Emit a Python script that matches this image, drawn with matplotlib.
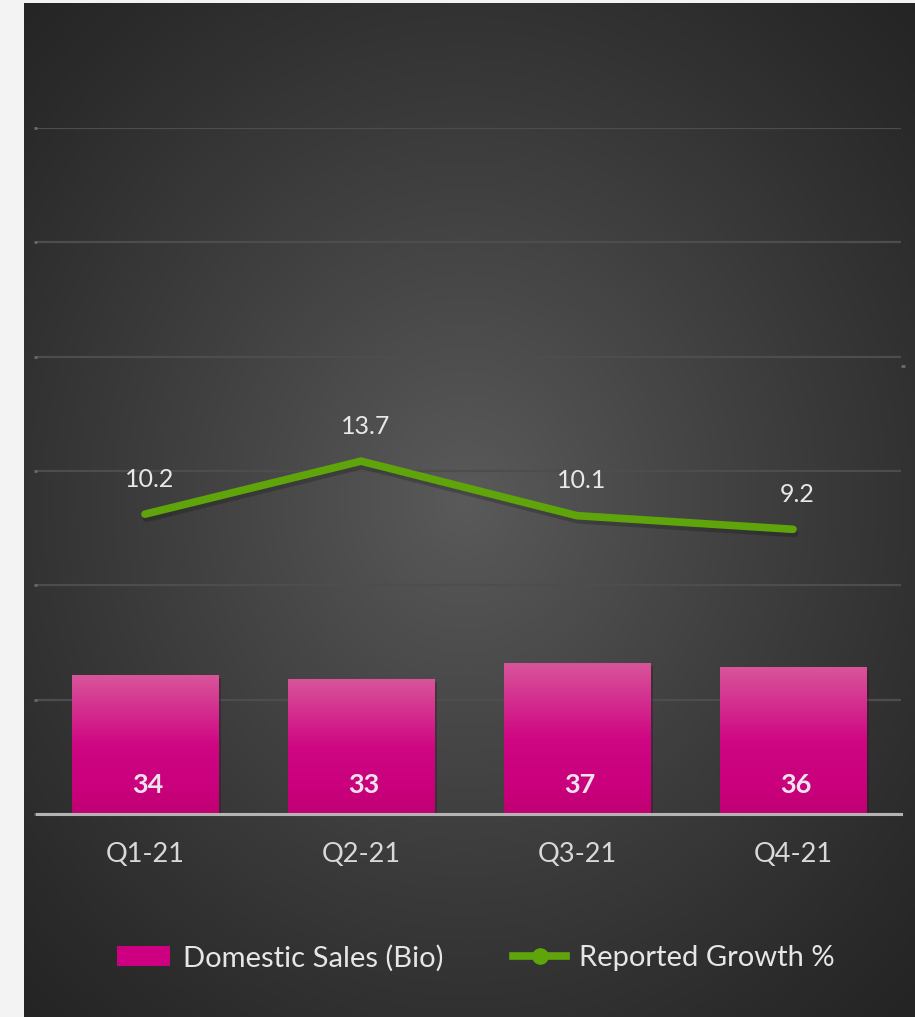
import numpy as np
import matplotlib
matplotlib.use("Agg")
import matplotlib.pyplot as plt
import matplotlib.patheffects as pe
from matplotlib.patches import Patch
from matplotlib.lines import Line2D
from matplotlib.colors import LinearSegmentedColormap

# data
quarters = ["Q1-21", "Q2-21", "Q3-21", "Q4-21"]
sales = [34, 33, 37, 36]
growth = [10.2, 13.7, 10.1, 9.2]

W, H = 915, 1017
plt.rcParams['font.family'] = ['Lato', 'DejaVu Sans']

fig = plt.figure(figsize=(W / 100, H / 100), dpi=100, facecolor='#f3f3f3')

# dark panel with radial gradient
bg = fig.add_axes([24 / W, 0, 1 - 24 / W, (H - 3) / H])
gx, gy = np.meshgrid(np.linspace(24, W, 300), np.linspace(3, H, 330))
r = np.sqrt(((gx - 465) / 650) ** 2 + ((gy - 500) / 720) ** 2)
t = np.clip(1 - r, 0, 1) ** 1.15
c_edge = np.array([0x24, 0x24, 0x24]) / 255
c_mid = np.array([0x5a, 0x5a, 0x5a]) / 255
img = c_edge + (c_mid - c_edge) * t[..., None]
bg.imshow(img, extent=[0, 1, 0, 1], aspect='auto', origin='upper')
bg.axis('off')

# main axes
ax = fig.add_axes([37 / W, (H - 814) / H, 864 / W, 686 / H])
ax.patch.set_alpha(0)
x = np.arange(len(quarters))
ax.yaxis.grid(True, color='#4d4d4d', linewidth=1.6)
ax.set_axisbelow(True)
for s in ['top', 'right', 'left']:
    ax.spines[s].set_visible(False)
ax.spines['bottom'].set_color('#b4b4b4')
ax.spines['bottom'].set_linewidth(2.2)
ax.spines['bottom'].set_zorder(5)
ax.tick_params(axis='y', length=2, width=2, color='#6a6a6a', labelleft=False, pad=2)
ax.tick_params(axis='x', length=0, pad=20, labelsize=19.5, labelcolor='#d9d9d9')
ax.set_xticks(x)
ax.set_xticklabels(quarters)

bar_cmap = LinearSegmentedColormap.from_list(
    'pink', [(0, '#d8559a'), (0.5, '#cf0783'), (0.8, '#ca007c'), (1, '#c00073')])
bars = ax.bar(x, sales, width=0.676, color='#cc0080', zorder=3,
              path_effects=[pe.SimplePatchShadow(offset=(2, -2), alpha=0.3), pe.Normal()])
grad = np.linspace(0, 1, 256).reshape(-1, 1)
for b in bars:
    bx, by = b.get_x(), b.get_y()
    im = ax.imshow(grad, cmap=bar_cmap, extent=[bx, bx + b.get_width(), by, by + b.get_height()],
                   aspect='auto', origin='upper', zorder=3.5)
    im.set_clip_path(b)
ax.set_xlim(-0.5, len(quarters) - 0.5)
ax.set_ylim(0, 168)
ax.set_yticks(np.arange(0, 169, 28))

for xi, v in zip(x, sales):
    ax.annotate(f"{v}", xy=(xi, 0), xytext=(2, 21), textcoords='offset points',
                ha='center', va='center', fontsize=19.5, fontweight='bold',
                color='#ece4ea', zorder=6)

# secondary axis for growth
ax2 = ax.twinx()
ax2.set_ylim(-9.6, 35.7)
for s in ax2.spines.values():
    s.set_visible(False)
ax2.set_yticks([20])
ax2.tick_params(axis='y', length=3, width=2, color='#6a6a6a', labelright=False, pad=2)
ax2.plot(x, growth, color='#5ea40a', linewidth=5.5, solid_capstyle='round',
         solid_joinstyle='miter', zorder=4,
         path_effects=[pe.SimpleLineShadow(offset=(1, -3), alpha=0.2, shadow_color='black'),
                       pe.Normal()])
for xi, v in zip(x, growth):
    ax2.annotate(f"{v}", xy=(xi, v), xytext=(3, 25), textcoords='offset points',
                 ha='center', va='center', fontsize=18, color='#e8e8e8')

# legend
handles = [Patch(facecolor='#cc0080', edgecolor='none'),
           Line2D([0], [0], color='#5ea40a', linewidth=5.5, marker='o', markersize=11,
                  markerfacecolor='#5ea40a', markeredgecolor='#5ea40a')]
fig.legend(handles, ["Domestic Sales (Bio)", "Reported Growth %"],
           loc='center', bbox_to_anchor=(476 / W, (H - 958) / H), ncol=2,
           frameon=False, fontsize=21, labelcolor='#e6e6e6',
           handlelength=1.8, handleheight=0.66, handletextpad=0.45, columnspacing=2.4)

fig.savefig("out.png", dpi=100, facecolor=fig.get_facecolor())
